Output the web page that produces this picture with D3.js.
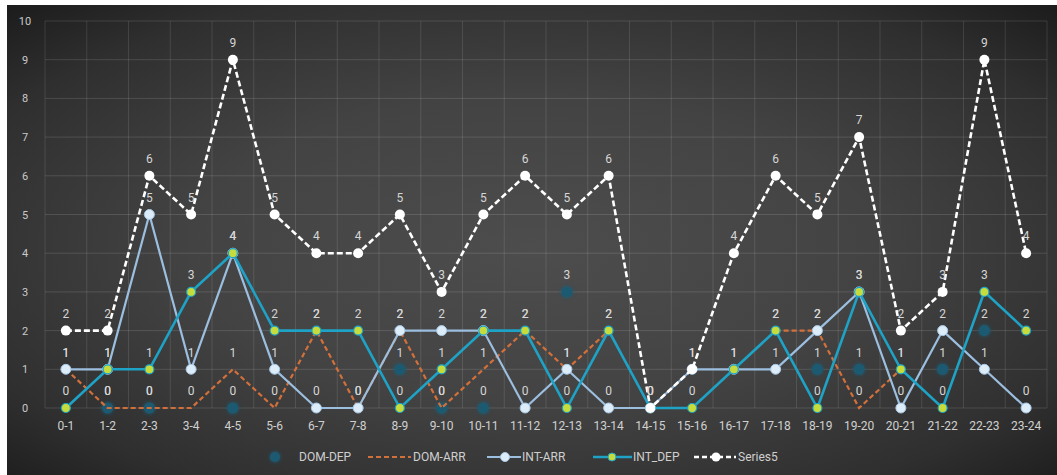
<!DOCTYPE html>
<html>
<head>
<meta charset="utf-8">
<script src="https://cdn.jsdelivr.net/npm/d3@7"></script>
<style>
  html, body { margin: 0; padding: 0; background: #ffffff; }
  svg { display: block; }
  text { font-family: Roboto, "Noto Sans", sans-serif; }
</style>
</head>
<body>
<svg id="chart" width="1057" height="475"></svg>
<script>
// Hour slots on the category axis
const categories = ["0-1","1-2","2-3","3-4","4-5","5-6","6-7","7-8","8-9","9-10","10-11","11-12",
  "12-13","13-14","14-15","15-16","16-17","17-18","18-19","19-20","20-21","21-22","22-23","23-24"];

// Movements per hour slot (null = no value recorded)
const domDep = [null,0,0,null,0,null,null,null,1,0,0,null,3,null,null,null,null,null,1,1,null,1,2,null];
const domArr = [1,0,0,0,1,0,2,0,2,0,1,2,1,2,null,null,null,2,2,0,1,null,null,null];
const intArr = [1,1,5,1,4,1,0,0,2,2,2,0,1,0,0,1,1,1,2,3,0,2,1,0];
const intDep = [0,1,1,3,4,2,2,2,0,1,2,2,0,2,0,0,1,2,0,3,1,0,3,2];
const series5 = [2,2,6,5,9,5,4,4,5,3,5,6,5,6,0,1,4,6,5,7,2,3,9,4];

const yTicks = [0,1,2,3,4,5,6,7,8,9,10];
const seriesNames = ["DOM-DEP","DOM-ARR","INT-ARR","INT_DEP","Series5"];

const svg = d3.select("#chart");
const W = 1057, H = 475;

// Panel background with a soft vignette
const defs = svg.append("defs");
const grad = defs.append("radialGradient").attr("id","bg")
  .attr("cx","50%").attr("cy","52%").attr("r","72%");
grad.append("stop").attr("offset","0%").attr("stop-color","#4d4d4d");
grad.append("stop").attr("offset","45%").attr("stop-color","#434343");
grad.append("stop").attr("offset","80%").attr("stop-color","#2f2f2f");
grad.append("stop").attr("offset","100%").attr("stop-color","#1c1c1c");

const glow = defs.append("filter").attr("id","soft")
  .attr("x","-100%").attr("y","-100%").attr("width","300%").attr("height","300%");
glow.append("feGaussianBlur").attr("in","SourceGraphic").attr("stdDeviation",2.2).attr("result","b");
const fm = glow.append("feMerge");
fm.append("feMergeNode").attr("in","b");
fm.append("feMergeNode").attr("in","SourceGraphic");

svg.append("rect").attr("x",7).attr("y",5).attr("width",W-7).attr("height",H-5)
  .attr("fill","url(#bg)");

// Scales
const x = d3.scaleBand().domain(categories).range([45,1047]);
const cx = c => x(c) + x.bandwidth()/2;
const y = d3.scaleLinear().domain([0,10]).range([408,21]);

// Gridlines
const grid = svg.append("g");
grid.selectAll("line.h").data(yTicks).join("line")
  .attr("x1",45).attr("x2",1047)
  .attr("y1",d=>y(d)).attr("y2",d=>y(d))
  .attr("stroke","rgba(255,255,255,0.13)").attr("stroke-width",1);
const edges = categories.map(c => x(c)).concat([x.range()[1]]);
grid.selectAll("line.v").data(edges).join("line")
  .attr("x1",d=>d).attr("x2",d=>d)
  .attr("y1",y(10)).attr("y2",y(0))
  .attr("stroke","rgba(255,255,255,0.11)").attr("stroke-width",1);

// Axes
const yAxis = d3.axisLeft(y).tickValues(yTicks).tickSize(0).tickPadding(0);
const gy = svg.append("g").attr("transform","translate(25,0)").call(yAxis);
gy.select(".domain").remove();
gy.selectAll("text").attr("fill","#c9c9c9").attr("font-size",11).attr("text-anchor","middle");

const xAxis = d3.axisBottom(x).tickSize(0).tickPadding(13);
const gx = svg.append("g").attr("transform",`translate(0,${y(0)})`).call(xAxis);
gx.select(".domain").remove();
gx.selectAll("text").attr("fill","#d0d0d0").attr("font-size",12);

const toPts = arr => arr.map((v,i)=>({c:categories[i], v}));
const line = d3.line().defined(d=>d.v!==null).x(d=>cx(d.c)).y(d=>y(d.v));

const plot = svg.append("g");

// DOM-DEP: markers only
plot.append("g").selectAll("circle").data(toPts(domDep).filter(d=>d.v!==null)).join("circle")
  .attr("cx",d=>cx(d.c)).attr("cy",d=>y(d.v)).attr("r",5.5)
  .attr("fill","#1e5a72").attr("filter","url(#soft)");

// DOM-ARR: dashed orange line
plot.append("path").datum(toPts(domArr)).attr("d",line)
  .attr("fill","none").attr("stroke","#d2703b").attr("stroke-width",2.2)
  .attr("stroke-dasharray","5,3");

// INT-ARR
plot.append("path").datum(toPts(intArr)).attr("d",line)
  .attr("fill","none").attr("stroke","#9cbfe0").attr("stroke-width",2.2);
plot.append("g").selectAll("circle").data(toPts(intArr)).join("circle")
  .attr("cx",d=>cx(d.c)).attr("cy",d=>y(d.v)).attr("r",5)
  .attr("fill","#dcecf9").attr("stroke","#a9c9e6").attr("stroke-width",1);

// INT_DEP
plot.append("path").datum(toPts(intDep)).attr("d",line)
  .attr("fill","none").attr("stroke","#1ea2c6").attr("stroke-width",2.6);
plot.append("g").selectAll("circle").data(toPts(intDep)).join("circle")
  .attr("cx",d=>cx(d.c)).attr("cy",d=>y(d.v)).attr("r",4.5)
  .attr("fill","#c6dc3c").attr("stroke","#1ea2c6").attr("stroke-width",1.2);

// Series5: white dashed line
plot.append("path").datum(toPts(series5)).attr("d",line)
  .attr("fill","none").attr("stroke","#ffffff").attr("stroke-width",2.6)
  .attr("stroke-dasharray","6,3");
plot.append("g").selectAll("circle").data(toPts(series5)).join("circle")
  .attr("cx",d=>cx(d.c)).attr("cy",d=>y(d.v)).attr("r",5)
  .attr("fill","#ffffff");

// Data labels above every point
const labels = svg.append("g");
[domDep, domArr, intArr, intDep, series5].forEach(arr => {
  labels.append("g").selectAll("text").data(toPts(arr).filter(d=>d.v!==null)).join("text")
    .attr("x",d=>cx(d.c)).attr("y",d=>y(d.v)-17)
    .attr("dy","0.35em").attr("text-anchor","middle")
    .attr("fill","#d6d6d6").attr("font-size",12)
    .text(d=>d.v);
});

// Legend
const lg = svg.append("g").attr("transform","translate(0,457)");
const ly = 0;
// DOM-DEP
lg.append("circle").attr("cx",275).attr("cy",ly).attr("r",5).attr("fill","#1e5a72").attr("filter","url(#soft)");
lg.append("text").attr("x",299).attr("y",ly).attr("dy","0.35em").attr("fill","#cfcfcf").attr("font-size",12).text(seriesNames[0]);
// DOM-ARR
lg.append("line").attr("x1",368).attr("x2",411).attr("y1",ly).attr("y2",ly)
  .attr("stroke","#d2703b").attr("stroke-width",2.2).attr("stroke-dasharray","5,3");
lg.append("text").attr("x",413).attr("y",ly).attr("dy","0.35em").attr("fill","#cfcfcf").attr("font-size",12).text(seriesNames[1]);
// INT-ARR
lg.append("line").attr("x1",487).attr("x2",521).attr("y1",ly).attr("y2",ly)
  .attr("stroke","#9cbfe0").attr("stroke-width",2.2);
lg.append("circle").attr("cx",505).attr("cy",ly).attr("r",4.5).attr("fill","#dcecf9").attr("stroke","#a9c9e6");
lg.append("text").attr("x",522).attr("y",ly).attr("dy","0.35em").attr("fill","#cfcfcf").attr("font-size",12).text(seriesNames[2]);
// INT_DEP
lg.append("line").attr("x1",593).attr("x2",632).attr("y1",ly).attr("y2",ly)
  .attr("stroke","#1ea2c6").attr("stroke-width",2.6);
lg.append("circle").attr("cx",612).attr("cy",ly).attr("r",4).attr("fill","#c6dc3c").attr("stroke","#1ea2c6");
lg.append("text").attr("x",633).attr("y",ly).attr("dy","0.35em").attr("fill","#cfcfcf").attr("font-size",12).text(seriesNames[3]);
// Series5
lg.append("line").attr("x1",694).attr("x2",736).attr("y1",ly).attr("y2",ly)
  .attr("stroke","#ffffff").attr("stroke-width",2.4).attr("stroke-dasharray","5,3");
lg.append("circle").attr("cx",716).attr("cy",ly).attr("r",4.5).attr("fill","#ffffff");
lg.append("text").attr("x",738).attr("y",ly).attr("dy","0.35em").attr("fill","#cfcfcf").attr("font-size",12).text(seriesNames[4]);
</script>
</body>
</html>
